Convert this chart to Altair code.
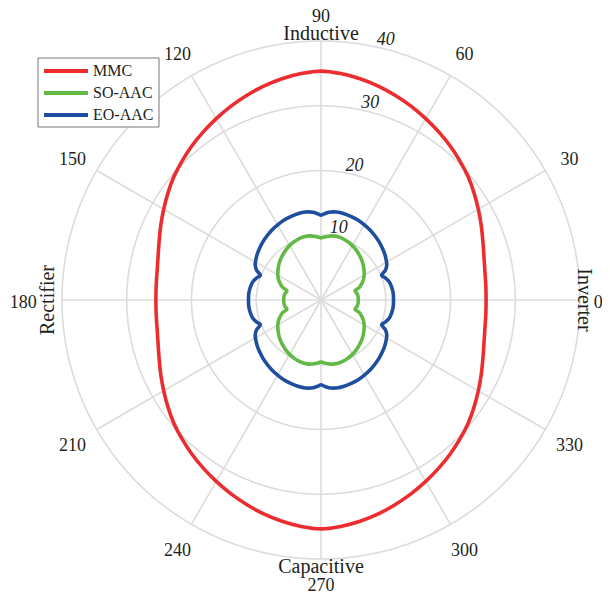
import altair as alt
import pandas as pd
import numpy as np

# ---------------- data ----------------
series_names = ["MMC", "SO-AAC", "EO-AAC"]
series_colors = ["#ec2d2f", "#62b946", "#1f4e9e"]

mmc_angle = [0, 5, 10, 15, 20, 25, 30, 35, 40, 45, 50, 55, 60, 65, 70, 75, 80, 85, 90,
             95, 100, 105, 110, 115, 120, 125, 130, 135, 140, 145, 150, 155, 160, 165, 170, 175, 180,
             185, 190, 195, 200, 205, 210, 215, 220, 225, 230, 235, 240, 245, 250, 255, 260, 265, 270,
             275, 280, 285, 290, 295, 300, 305, 310, 315, 320, 325, 330, 335, 340, 345, 350, 355, 360]
mmc_r = [25.5, 25.55, 25.7, 26.05, 26.6, 27.3, 28.05, 28.85, 29.65, 30.35, 31.05, 31.7, 32.35, 33.0, 33.6, 34.2, 34.7, 35.1, 35.35,
         35.1, 34.7, 34.2, 33.6, 33.0, 32.35, 31.7, 31.05, 30.35, 29.65, 28.85, 28.05, 27.3, 26.6, 26.05, 25.7, 25.55, 25.5,
         25.55, 25.7, 26.05, 26.6, 27.3, 28.05, 28.85, 29.65, 30.35, 31.05, 31.7, 32.35, 33.0, 33.6, 34.2, 34.7, 35.1, 35.35,
         35.1, 34.7, 34.2, 33.6, 33.0, 32.35, 31.7, 31.05, 30.35, 29.65, 28.85, 28.05, 27.3, 26.6, 26.05, 25.7, 25.55, 25.5]

so_angle = [0, 5, 10, 15, 18, 22, 26, 30, 35, 40, 45, 50, 55, 60, 65, 70, 75, 80, 85, 90,
            95, 100, 105, 110, 115, 120, 125, 130, 135, 140, 145, 150, 154, 158, 162, 165, 170, 175, 180,
            185, 190, 195, 198, 202, 206, 210, 215, 220, 225, 230, 235, 240, 245, 250, 255, 260, 265, 270,
            275, 280, 285, 290, 295, 300, 305, 310, 315, 320, 325, 330, 334, 338, 342, 345, 350, 355, 360]
so_r = [5.75, 5.75, 5.65, 5.45, 6.2, 6.8, 7.3, 7.7, 8.1, 8.5, 8.85, 9.15, 9.45, 9.7, 9.9, 10.05, 10.1, 10.05, 9.85, 9.6,
        9.85, 10.05, 10.1, 10.05, 9.9, 9.7, 9.45, 9.15, 8.85, 8.5, 8.1, 7.7, 7.3, 6.8, 6.2, 5.45, 5.65, 5.75, 5.75,
        5.75, 5.65, 5.45, 6.2, 6.8, 7.3, 7.7, 8.1, 8.5, 8.85, 9.15, 9.45, 9.7, 9.9, 10.05, 10.1, 10.05, 9.85, 9.6,
        9.85, 10.05, 10.1, 10.05, 9.9, 9.7, 9.45, 9.15, 8.85, 8.5, 8.1, 7.7, 7.3, 6.8, 6.2, 5.45, 5.65, 5.75, 5.75]

eo_angle = [0, 5, 10, 15, 19, 22, 25, 28, 32, 36, 40, 45, 50, 55, 60, 65, 70, 75, 80, 85, 88, 90,
            92, 95, 100, 105, 110, 115, 120, 125, 130, 135, 140, 144, 148, 152, 155, 158, 161, 165, 170, 175, 180,
            185, 190, 195, 199, 202, 205, 208, 212, 216, 220, 225, 230, 235, 240, 245, 250, 255, 260, 265, 268, 270,
            272, 275, 280, 285, 290, 295, 300, 305, 310, 315, 320, 324, 328, 332, 335, 338, 341, 345, 350, 355, 360]
eo_r = [11.2, 11.2, 11.1, 10.9, 10.5, 10.1, 11.0, 11.5, 11.85, 12.15, 12.4, 12.7, 12.95, 13.2, 13.4, 13.6, 13.7, 13.8, 13.8, 13.6, 13.3, 13.1,
        13.3, 13.6, 13.8, 13.8, 13.7, 13.6, 13.4, 13.2, 12.95, 12.7, 12.4, 12.15, 11.85, 11.5, 11.0, 10.1, 10.5, 10.9, 11.1, 11.2, 11.2,
        11.2, 11.1, 10.9, 10.5, 10.1, 11.0, 11.5, 11.85, 12.15, 12.4, 12.7, 12.95, 13.2, 13.4, 13.6, 13.7, 13.8, 13.8, 13.6, 13.3, 13.1,
        13.3, 13.6, 13.8, 13.8, 13.7, 13.6, 13.4, 13.2, 12.95, 12.7, 12.4, 12.15, 11.85, 11.5, 11.0, 10.1, 10.5, 10.9, 11.1, 11.2, 11.2]

ring_values = [10, 20, 30, 40]
ring_labels = ["10", "20", "30", "40"]
spoke_angles = [0, 30, 60, 90, 120, 150, 180, 210, 240, 270, 300, 330]
angle_labels = ["0", "30", "60", "90", "120", "150", "180", "210", "240", "270", "300", "330"]
quadrant_labels = ["Inductive", "Capacitive", "Rectifier", "Inverter"]

# ---------------- layout ----------------
W, H = 578, 571
CX, CY = 305, 284          # centre of the polar grid in plot pixels
PX = 6.475                 # pixels per unit
xs = alt.Scale(domain=[-CX / PX, (W - CX) / PX], nice=False, zero=False)
ys = alt.Scale(domain=[-(H - CY) / PX, CY / PX], nice=False, zero=False)
FONT = "Liberation Serif"
TXT = "#231f20"
GRID = "#dcdcdc"

rows = []
for name, ang, rr in [("MMC", mmc_angle, mmc_r), ("SO-AAC", so_angle, so_r), ("EO-AAC", eo_angle, eo_r)]:
    for i, (a, r) in enumerate(zip(ang, rr)):
        rows.append({"series": name, "angle": a, "r": r, "idx": i})
curve_df = pd.DataFrame(rows)

ring_df = pd.DataFrame([{"ring": v, "angle": a} for v in ring_values for a in range(0, 361, 1)])
spoke_df = pd.DataFrame({"angle": spoke_angles, "rmax": [ring_values[-1]] * len(spoke_angles)})
# radial distance (in data units) at which each angle label sits
label_radius = {0: 42.8, 90: 44.17, 180: 46.0, 270: 43.7}
lab_r = [label_radius.get(a, 44.3) for a in spoke_angles]
alab_df = pd.DataFrame({"angle": spoke_angles, "label": angle_labels, "r": lab_r})
rlab_df = pd.DataFrame({"label": ring_labels, "r": [v + 1.4 for v in ring_values], "angle": [76] * 4})

XC = "datum.r*cos(datum.angle*PI/180)"
YC = "datum.r*sin(datum.angle*PI/180)"

rings = alt.Chart(ring_df).transform_calculate(
    r="datum.ring", x=XC, y=YC
).mark_line(color=GRID, strokeWidth=1.6).encode(
    x=alt.X("x:Q", scale=xs, axis=None),
    y=alt.Y("y:Q", scale=ys, axis=None),
    detail="ring:N",
    order="angle:Q",
)

spokes = alt.Chart(spoke_df).transform_calculate(
    x0="0", y0="0",
    x1="datum.rmax*cos(datum.angle*PI/180)", y1="datum.rmax*sin(datum.angle*PI/180)"
).mark_rule(color=GRID, strokeWidth=1.6).encode(
    x=alt.X("x0:Q", scale=xs, axis=None),
    y=alt.Y("y0:Q", scale=ys, axis=None),
    x2="x1:Q",
    y2="y1:Q",
)

curves = alt.Chart(curve_df).transform_calculate(
    x=XC, y=YC
).mark_line(interpolate="catmull-rom", strokeWidth=3.6).encode(
    x=alt.X("x:Q", scale=xs, axis=None),
    y=alt.Y("y:Q", scale=ys, axis=None),
    color=alt.Color("series:N", scale=alt.Scale(domain=series_names, range=series_colors), legend=None),
    detail="series:N",
    order="idx:Q",
)

angle_text = alt.Chart(alab_df).transform_calculate(
    x=XC, y=YC
).mark_text(font=FONT, fontSize=18, color=TXT, baseline="middle", align="center", dy=3).encode(
    x=alt.X("x:Q", scale=xs, axis=None),
    y=alt.Y("y:Q", scale=ys, axis=None),
    text="label:N",
)

ring_text = alt.Chart(rlab_df).transform_calculate(
    x=XC, y=YC
).mark_text(font=FONT, fontSize=18, fontStyle="italic", color=TXT, baseline="middle", align="center").encode(
    x=alt.X("x:Q", scale=xs, axis=None),
    y=alt.Y("y:Q", scale=ys, axis=None),
    text="label:N",
)

quad_pos = [(CX, 18, 0), (CX, 551, 0), (31.5, CY, 270), (568, CY, 90)]
quad_layers = []
for lab, (qx, qy, qa) in zip(quadrant_labels, quad_pos):
    quad_layers.append(
        alt.Chart(pd.DataFrame({"label": [lab]})).mark_text(
            font=FONT, fontSize=20, color=TXT, baseline="middle", align="center", angle=qa
        ).encode(x=alt.value(qx), y=alt.value(qy), text="label:N")
    )

legend_box = alt.Chart(pd.DataFrame({"a": [0]})).mark_rect(
    fill="white", stroke="#777777", strokeWidth=1
).encode(x=alt.value(22), x2=alt.value(143), y=alt.value(42), y2=alt.value(111))

legend_layers = [legend_box]
for i, (name, col) in enumerate(zip(series_names, series_colors)):
    ly = 55 + 22 * i
    ldf = pd.DataFrame({"label": [name]})
    legend_layers.append(
        alt.Chart(ldf).mark_rule(color=col, strokeWidth=4).encode(
            x=alt.value(28), x2=alt.value(72), y=alt.value(ly)
        )
    )
    legend_layers.append(
        alt.Chart(ldf).mark_text(font=FONT, fontSize=16, color=TXT, align="left", baseline="middle").encode(
            x=alt.value(77), y=alt.value(ly), text="label:N"
        )
    )

chart = alt.layer(
    rings, spokes, curves, angle_text, ring_text, *quad_layers, *legend_layers
).properties(
    width=W, height=H, padding=8, autosize=alt.AutoSizeParams(type="none")
).configure_view(strokeWidth=0)

chart.save("out.html", embed_options={"renderer": "svg", "actions": False})
